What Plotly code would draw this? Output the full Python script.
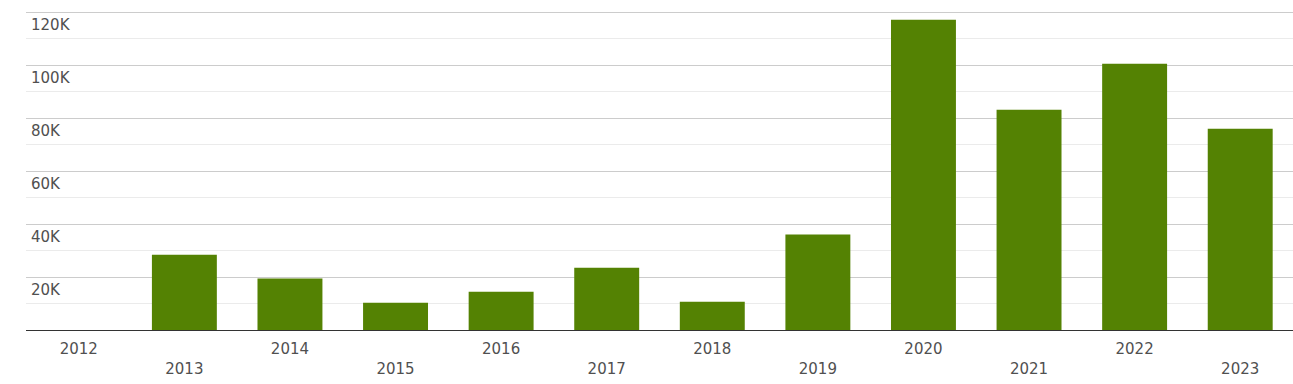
import plotly.graph_objects as go

years = ["2012", "2013", "2014", "2015", "2016", "2017", "2018", "2019", "2020", "2021", "2022", "2023"]
values = [0, 28400, 19400, 10300, 14450, 23500, 10700, 36000, 117100, 83100, 100500, 76000]
ytick_vals = [20000, 40000, 60000, 80000, 100000, 120000]
ytick_text = ["20K", "40K", "60K", "80K", "100K", "120K"]
xtick_text = [y if i % 2 == 0 else "<br>" + y for i, y in enumerate(years)]

fig = go.Figure(go.Bar(x=years, y=values, marker_color="#548203", marker_line_width=0))

fig.update_layout(
    width=1293, height=384,
    margin=dict(l=26, r=0, t=11, b=54),
    plot_bgcolor="white", paper_bgcolor="white",
    bargap=0.385,
    showlegend=False,
    font=dict(family="DejaVu Sans", size=15, color="#505050"),
)
fig.update_xaxes(
    type="category", range=[-0.5, 11.5],
    tickvals=years, ticktext=xtick_text,
    showgrid=False, showline=True, linecolor="#333", linewidth=1,
    ticks="", ticklabelstandoff=5, tickfont=dict(size=15, color="#505050"),
)
fig.update_yaxes(
    range=[0, 120400],
    tickvals=ytick_vals, ticktext=ytick_text,
    ticklabelposition="inside", ticklabelstandoff=2, ticklabelshift=13,
    showgrid=True, gridcolor="#cccccc", gridwidth=1,
    minor=dict(tick0=0, dtick=10000, showgrid=True, gridcolor="#ebebeb", gridwidth=1),
    zeroline=False, showline=False, ticks="",
    tickfont=dict(size=15, color="#505050"),
)

fig.write_html("out.html")
